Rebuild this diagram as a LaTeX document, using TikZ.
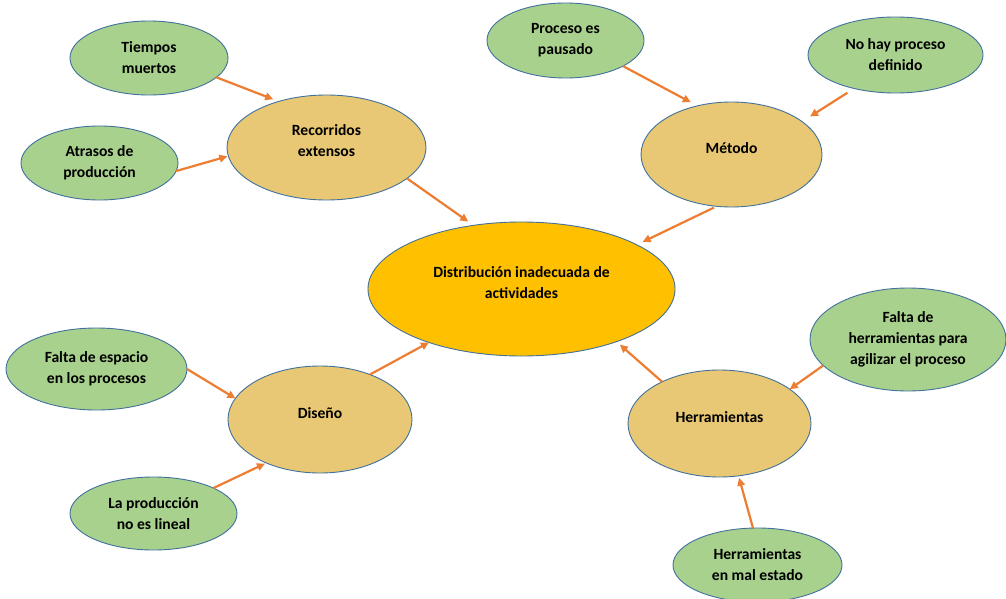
\documentclass[tikz,border=0pt]{standalone}
\usepackage{fontspec}
\setmainfont{Carlito}
\usetikzlibrary{shapes.geometric,arrows.meta}
\definecolor{leafgreen}{HTML}{A9D18E}
\definecolor{causetan}{HTML}{E8C874}
\definecolor{coregold}{HTML}{FFC000}
\definecolor{rimblue}{HTML}{41719C}
\definecolor{linkorange}{HTML}{ED7D31}

\begin{document}
\begin{tikzpicture}[x=1pt,y=-1pt,
  bubbletext/.style={font=\bfseries\fontsize{15.6}{21}\selectfont, align=center, text=black},
  bubble/.style={ellipse, draw=rimblue, line width=0.9pt, inner sep=0pt, outer sep=0pt, bubbletext},
  leaf/.style={bubble, fill=leafgreen},
  cause/.style={bubble, fill=causetan},
  core/.style={bubble, fill=coregold},
  raised/.style={label={[bubbletext, inner sep=0pt, yshift=6.5pt]center:#1}},
  link/.style={draw=linkorange, line width=2.2pt, -{Triangle[length=8pt,width=7.5pt]}}
]
\fill[white] (0,0) rectangle (1006,599);
\clip (0,0) rectangle (1006,599);

% central effect
\node[core, minimum width=307pt, minimum height=134pt,
      raised={Distribución inadecuada de\\actividades}] (core) at (521.5,289) {};

% main causes
\node[cause, minimum width=199pt, minimum height=105pt,
      raised={Recorridos\\extensos}] (reco) at (326.5,147.5) {};
\node[cause, minimum width=181pt, minimum height=105pt,
      raised={Método}] (meto) at (731.5,154.5) {};
\node[cause, minimum width=184pt, minimum height=107pt,
      raised={Diseño}] (dis) at (320,419.5) {};
\node[cause, minimum width=183pt, minimum height=107pt,
      raised={Herramientas}] (herr) at (719.5,423.5) {};

% sub-causes
\node[leaf, minimum width=158pt, minimum height=74pt] (tiem) at (149,58) {Tiempos\\muertos};
\node[leaf, minimum width=157pt, minimum height=74pt] (atra) at (99.5,163) {Atrasos de\\producción};
\node[leaf, minimum width=157pt, minimum height=75pt] (proc) at (565.5,40.5) {Proceso es\\pausado};
\node[leaf, minimum width=175pt, minimum height=76pt] (nohay) at (895.5,55) {No hay proceso\\definido};
\node[leaf, minimum width=181pt, minimum height=82pt] (esp) at (96.5,369) {Falta de espacio\\en los procesos};
\node[leaf, minimum width=167pt, minimum height=73pt] (lin) at (153.5,513.5) {La producción\\no es lineal};
\node[leaf, minimum width=196pt, minimum height=103pt] (fherr) at (908,339.5) {Falta de\\herramientas para\\agilizar el proceso};
\node[leaf, minimum width=169pt, minimum height=74pt] (mal) at (757.5,565) {Herramientas\\en mal estado};

% connectors
\draw[link, shorten >=6pt] (tiem.-16) -- (reco.136);
\draw[link, shorten >=1pt] (atra.-6) -- (reco.185.5);
\draw[link, shorten >=6.5pt] (reco.-21) -- (core.127.3);
\draw[link, shorten >=7.5pt] (proc.-24.4) -- (meto.125.9);
\draw[link, shorten <=8pt, shorten >=9.5pt] (nohay.219.4) -- (meto.25.5);
\draw[link, shorten <=3pt, shorten >=6.5pt] (meto.254.1) -- (core.21.3);
\draw[link] (esp.0) -- (dis.166.3);
\draw[link, shorten >=1.5pt] (lin.23.7) -- (dis.219);
\draw[link] (dis.42.3) -- (core.210.3);
\draw[link] (fherr.197.1) -- (herr.26.4);
\draw[link, shorten >=2pt] (mal.97) -- (herr.-70.3);
\draw[link, shorten >=4.5pt] (herr.144.5) -- (core.-29.2);
\end{tikzpicture}
\end{document}
